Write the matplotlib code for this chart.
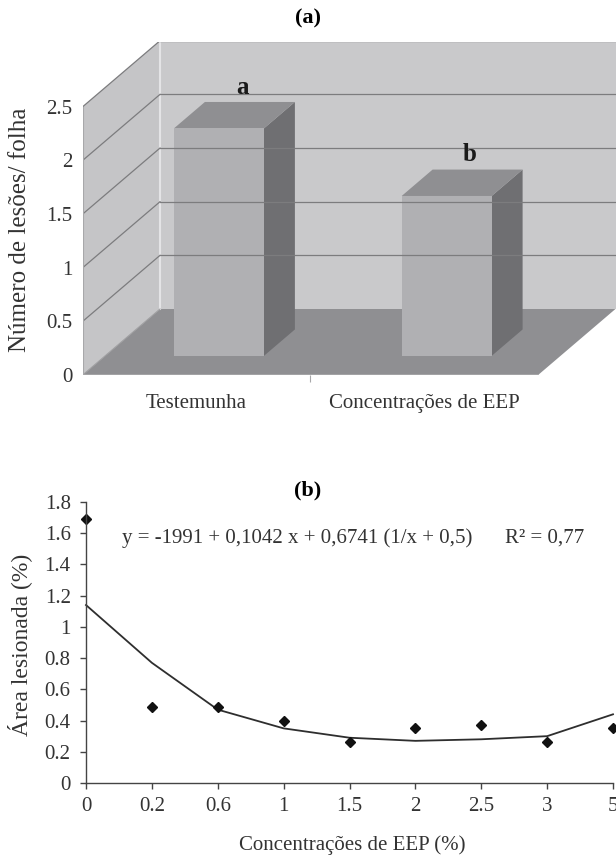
import matplotlib
matplotlib.use('Agg')
import matplotlib.pyplot as plt
from matplotlib.patches import Polygon

plt.rcParams['font.family'] = ['Liberation Serif', 'DejaVu Serif']

# (a) numero de lesoes por folha
cats_a = ['Testemunha', 'Concentrações de EEP']
lesoes = [2.12, 1.49]
letras = ['a', 'b']
yticks_a = [0, 0.5, 1, 1.5, 2, 2.5]
yticklabels_a = ['0', '0.5', '1', '1.5', '2', '2.5']

# (b) area lesionada
conc_labels = ['0', '0.2', '0.6', '1', '1.5', '2', '2.5', '3', '5']
area_obs = [1.69, 0.49, 0.49, 0.40, 0.26, 0.35, 0.37, 0.26, 0.35]
area_fit = [1.14, 0.77, 0.47, 0.35, 0.29, 0.27, 0.28, 0.30, 0.44]
yticks_b = [0, 0.2, 0.4, 0.6, 0.8, 1, 1.2, 1.4, 1.6, 1.8]
yticklabels_b = ['0', '0.2', '0.4', '0.6', '0.8', '1', '1.2', '1.4', '1.6', '1.8']

txt = '#333333'
fig = plt.figure(figsize=(6.16, 8.56), dpi=100)

# ---------- (a) pseudo-3D bars ----------
W, H = 616, 856
ax = fig.add_axes([82.7 / W, (H - 375) / H, 533.3 / W, 333.3 / H])
ax.set_xlim(-0.5, 1.842)
ax.set_ylim(0, 3.106)
ddx, ddy = 0.3395, 0.615    # depth vector (data units)
top = yticks_a[-1]
x0 = -0.5
xend = 1.5

wall_c, side_c, floor_c, grid_c = '#c9c9cb', '#c5c5c7', '#8f8f92', '#7c7c7e'
# back wall
ax.add_patch(Polygon([(x0 + ddx, ddy), (3, ddy), (3, top + ddy), (x0 + ddx, top + ddy)],
                     closed=True, fc=wall_c, ec='none'))
# left wall
ax.add_patch(Polygon([(x0, 0), (x0, top), (x0 + ddx, top + ddy), (x0 + ddx, ddy)],
                     closed=True, fc=side_c, ec='none'))
# floor
ax.add_patch(Polygon([(x0, 0), (xend, 0), (xend + ddx, ddy), (x0 + ddx, ddy)],
                     closed=True, fc=floor_c, ec='none'))
ax.plot([x0 + ddx, x0 + ddx], [ddy, top + ddy], color='#e4e4e6', lw=1.5)
for v in yticks_a[1:]:
    ax.plot([x0, x0 + ddx], [v, v + ddy], color=grid_c, lw=0.9)
    ax.plot([x0 + ddx, 3], [v + ddy, v + ddy], color=grid_c, lw=0.9)
ax.plot([x0, x0 + ddx], [0, ddy], color='#a0a0a2', lw=0.8)
ax.plot([x0, x0], [0, top], color='#a8a8aa', lw=0.8)
ax.plot([x0, xend], [0, 0], color='#a8a8aa', lw=1.2)

w = 0.1976
z0, z1 = 0.29, 0.69
for i, (val, let) in enumerate(zip(lesoes, letras)):
    fl, fr = i - w + z0 * ddx, i + w + z0 * ddx
    bl, br = i - w + z1 * ddx, i + w + z1 * ddx
    yb0, yb1 = z0 * ddy, z1 * ddy
    # side face
    ax.add_patch(Polygon([(fr, yb0), (br, yb1), (br, val + yb1), (fr, val + yb0)],
                         closed=True, fc='#6f6f72', ec='none'))
    # top face
    ax.add_patch(Polygon([(fl, val + yb0), (fr, val + yb0), (br, val + yb1), (bl, val + yb1)],
                         closed=True, fc='#8f8f92', ec='none'))
    # front face
    ax.add_patch(Polygon([(fl, yb0), (fr, yb0), (fr, val + yb0), (fl, val + yb0)],
                         closed=True, fc='#b0b0b3', ec='none'))
    ax.text(i + 0.2, val + yb1 + 0.03, let, ha='center', va='bottom',
            fontsize=18, fontweight='bold', color='#1a1a1a')

for s in ax.spines.values():
    s.set_visible(False)
ax.set_yticks(yticks_a, yticklabels_a)
ax.set_xticks(range(len(cats_a)), cats_a)
ax.set_xticks([0.5], minor=True)
ax.tick_params(axis='y', length=0, pad=7.5, labelsize=15, labelcolor=txt)
ax.tick_params(axis='x', which='major', length=0, pad=14, labelsize=15, labelcolor=txt)
ax.tick_params(axis='x', which='minor', length=5, color='#a8a8aa', width=0.8)
fig.text(0.5, (H - 18) / H, '(a)', ha='center', va='center', fontsize=16, fontweight='bold')
fig.text(20.5 / W, (H - 230) / H, 'Número de lesões/ folha', rotation=90,
         ha='center', va='center', fontsize=18, color=txt)

# ---------- (b) area lesionada ----------
bx = fig.add_axes([86 / W, (H - 783) / H, 527 / W, 281 / H])
xs = range(len(conc_labels))
bx.plot(xs, area_fit, color='#2e2e2e', lw=1.3, clip_on=False)
bx.plot(xs, area_obs, 'D', color='#111111', ms=5, clip_on=False)
bx.set_xlim(0, len(conc_labels) - 1)
bx.set_ylim(0, 1.8)
bx.set_xticks(list(xs), conc_labels)
bx.set_yticks(yticks_b, yticklabels_b)
bx.spines['top'].set_visible(False)
bx.spines['right'].set_visible(False)
for s in ('left', 'bottom'):
    bx.spines[s].set_color('#444444')
    bx.spines[s].set_linewidth(1.0)
bx.tick_params(length=4, width=1.0, color='#444444', labelsize=15, labelcolor=txt)
bx.tick_params(axis='x', pad=6)
bx.tick_params(axis='y', pad=7)
bx.text(0.55, 1.57, 'y = -1991 + 0,1042 x + 0,6741 (1/x + 0,5)', ha='left', va='center',
        fontsize=15, color=txt)
bx.text(6.36, 1.57, 'R² = 0,77', ha='left', va='center', fontsize=15, color=txt)
fig.text(0.5, (H - 490) / H, '(b)', ha='center', va='center', fontsize=16, fontweight='bold')
fig.text(20 / W, (H - 645) / H, 'Área lesionada (%)', rotation=90,
         ha='center', va='center', fontsize=17, color=txt)
fig.text(352 / W, (H - 845) / H, 'Concentrações de EEP (%)', ha='center', va='center',
         fontsize=15, color=txt)

fig.savefig('out.png', dpi=100)
